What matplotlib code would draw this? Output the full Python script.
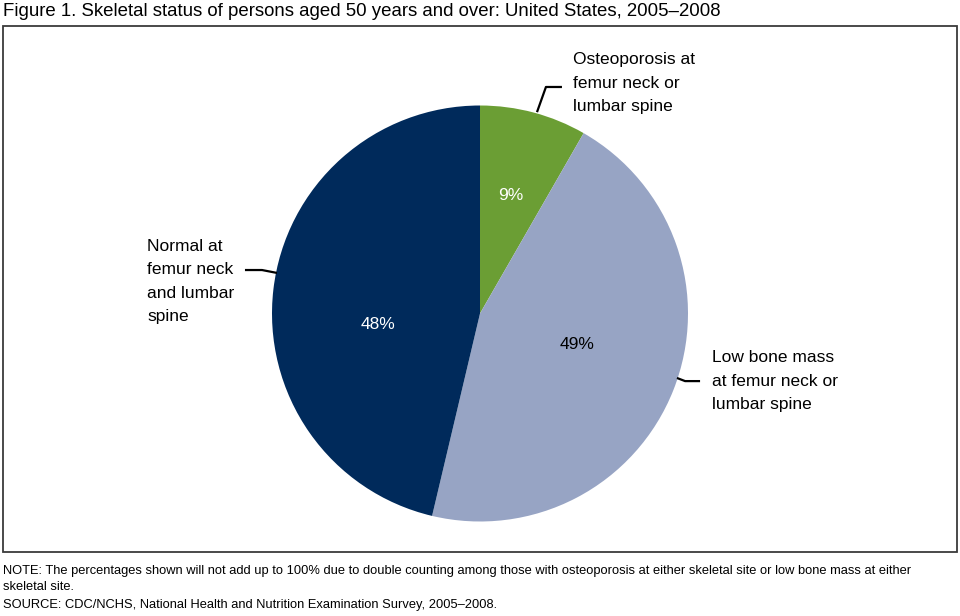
import matplotlib
matplotlib.use("Agg")
import matplotlib.pyplot as plt
import matplotlib.patches as mpatches

# slice shares as drawn (chart notes double counting, so labels don't add to 100)
categories = ["Osteoporosis at\nfemur neck or\nlumbar spine",
              "Low bone mass\nat femur neck or\nlumbar spine",
              "Normal at\nfemur neck\nand lumbar\nspine"]
shares = [8.3, 45.4, 46.3]
pct_labels = ["9%", "49%", "48%"]
colors = ["#6B9E34", "#97A4C4", "#002A5B"]
pct_colors = ["white", "black", "white"]

# layout (data units, pie radius = 1)
pct_pos = [(0.15, 0.565), (0.466, -0.151), (-0.49, -0.055)]
label_pos = [(0.447, 1.108), (1.115, -0.325), (-1.601, 0.154)]
leaders = [[(0.274, 0.968), (0.317, 1.089), (0.394, 1.089)],
           [(0.947, -0.310), (0.986, -0.325), (1.058, -0.325)],
           [(-0.976, 0.195), (-1.048, 0.209), (-1.130, 0.209)]]

plt.rcParams['font.family'] = ['Liberation Sans', 'DejaVu Sans']

W, H = 960, 616
fig = plt.figure(figsize=(W / 100, H / 100), dpi=100)

# outer frame
frame = mpatches.Rectangle((3 / W, 1 - 552 / H), 954 / W, 526 / H,
                           transform=fig.transFigure, fill=False,
                           edgecolor="#3a3a3a", linewidth=1.3)
fig.patches.append(frame)

r = 208
cx, cy = 480, 313.5
ax = fig.add_axes([(cx - r) / W, 1 - (cy + r) / H, 2 * r / W, 2 * r / H])
ax.pie(shares, colors=colors, startangle=90, counterclock=False, radius=1,
       wedgeprops=dict(linewidth=0))
ax.set_xlim(-1, 1)
ax.set_ylim(-1, 1)
ax.set_aspect('equal')
ax.axis('off')

for (x, y), t, c in zip(pct_pos, pct_labels, pct_colors):
    ax.text(x, y, t, color=c, fontsize=12.5, ha='center', va='center')

for (x, y), t in zip(label_pos, categories):
    ax.text(x, y, t, fontsize=12.5, ha='left', va='center', linespacing=1.68)

for pts in leaders:
    xs = [p[0] for p in pts]
    ys = [p[1] for p in pts]
    ax.plot(xs, ys, color='black', linewidth=1.6, clip_on=False,
            solid_capstyle='butt')

fig.text(3 / W, 1 - 11 / H,
         "Figure 1. Skeletal status of persons aged 50 years and over: United States, 2005\u20132008",
         fontsize=13.4, ha='left', va='center')

notes = [
    (571, "NOTE: The percentages shown will not add up to 100% due to double counting among those with osteoporosis at either skeletal site or low bone mass at either"),
    (587, "skeletal site."),
    (605, "SOURCE: CDC/NCHS, National Health and Nutrition Examination Survey, 2005\u20132008."),
]
for y, t in notes:
    fig.text(3 / W, 1 - y / H, t, fontsize=9.3, ha='left', va='center')

fig.savefig("out.png", dpi=100)
